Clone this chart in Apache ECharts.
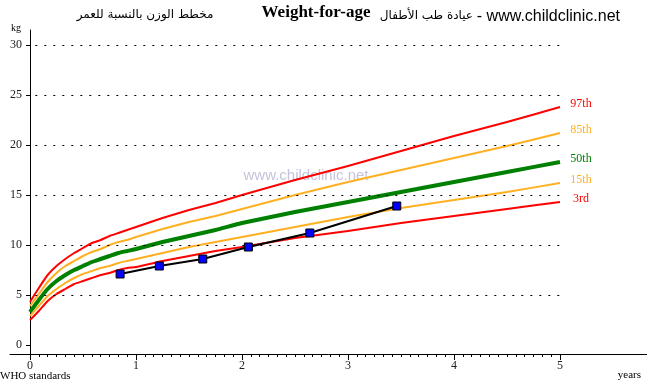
<!DOCTYPE html>
<html>
<head>
<meta charset="utf-8">
<script src="https://cdn.jsdelivr.net/npm/echarts@6/dist/echarts.min.js"></script>
<style>
html,body{margin:0;padding:0;background:#fff;}
#chart{width:647px;height:387px;}
</style>
</head>
<body>
<div id="chart"></div>
<script>
// Age in months for percentile curves (WHO boys weight-for-age)
var ageMonths = [0,1,2,3,4,5,6,7,8,9,10,11,12,15,18,21,24,30,36,42,48,54,60];
var p3  = [2.5,3.4,4.4,5.1,5.6,6.1,6.4,6.7,7.0,7.2,7.5,7.7,7.8,8.4,8.9,9.4,9.8,10.7,11.4,12.2,12.9,13.6,14.3];
var p15 = [2.9,3.9,4.9,5.6,6.2,6.7,7.1,7.4,7.7,7.9,8.2,8.4,8.6,9.2,9.8,10.3,10.8,11.8,12.8,13.7,14.5,15.3,16.2];
var p50 = [3.3,4.5,5.6,6.4,7.0,7.5,7.9,8.3,8.6,8.9,9.2,9.4,9.6,10.3,10.9,11.5,12.2,13.3,14.3,15.3,16.3,17.3,18.3];
var p85 = [3.9,5.1,6.3,7.2,7.9,8.4,8.9,9.3,9.6,10.0,10.3,10.5,10.8,11.6,12.3,12.9,13.6,15.0,16.3,17.5,18.7,19.9,21.2];
var p97 = [4.3,5.7,7.0,7.9,8.6,9.2,9.7,10.2,10.5,10.9,11.2,11.5,11.8,12.7,13.5,14.2,15.0,16.5,17.9,19.4,20.9,22.3,23.8];

// Child measurements
var childAge    = [0.85,1.22,1.63,2.06,2.64,3.46];
var childWeight = [7.1,7.9,8.6,9.8,11.2,13.9];

// Axis ticks / labels
var yearTicks = [0,1,2,3,4,5];
var kgTicks = [0,5,10,15,20,25,30];
var gridKg = [5,10,15,20,25,30];
var percentileNames = ['3rd','15th','50th','85th','97th'];

var monthTicks = [];
for (var m = 0; m <= 60; m++) monthTicks.push(m / 12);

function curve(arr){ return ageMonths.map(function(mo,i){ return [mo/12, arr[i]]; }); }

var RED = '#ff0000', ORANGE = '#ffb020', GREEN = '#008000';
var SERIF = '"Liberation Serif","Times New Roman",serif';
var SANS = '"Liberation Sans", Arial, sans-serif';

function pctSeries(name, arr, color, width){
  return {
    name: name, type: 'line', data: curve(arr), xAxisIndex: 0,
    showSymbol: false, smooth: 0.15, silent: true,
    lineStyle: {color: color, width: width, join: 'round'},
    itemStyle: {color: color},
    endLabel: {
      show: true, formatter: name, color: color,
      fontFamily: SERIF, fontSize: 12,
      distance: 21, align: 'center', offset: [0, -3]
    },
    z: 3
  };
}

var chart = echarts.init(document.getElementById('chart'), null, {renderer: 'canvas'});
var option = {
  animation: false,
  backgroundColor: '#fff',
  grid: {left: 10, right: 0, top: 30, bottom: 33, outerBoundsMode: 'none', containLabel: false},
  xAxis: [{
    type: 'value', min: -0.1887, max: 5.8208,
    axisLine: {onZero: false, lineStyle: {color: '#000', width: 1}},
    axisTick: {customValues: yearTicks, length: 6, lineStyle: {color: '#000'}},
    axisLabel: {customValues: yearTicks, color: '#222', fontFamily: SERIF, fontSize: 12, margin: 6},
    splitLine: {show: false}
  },{
    type: 'value', min: -0.1887, max: 5.8208, position: 'bottom',
    axisLine: {show: false, onZero: false},
    axisTick: {customValues: monthTicks, length: 3, lineStyle: {color: '#000'}},
    axisLabel: {show: false},
    splitLine: {show: false}
  }],
  yAxis: {
    type: 'value', min: -0.9, max: 31.5, position: 'left', offset: -20,
    axisLine: {onZero: false, lineStyle: {color: '#000', width: 1}},
    axisTick: {customValues: kgTicks, length: 4, lineStyle: {color: '#000'}},
    axisLabel: {customValues: kgTicks, color: '#222', fontFamily: SERIF, fontSize: 12, margin: 8},
    splitLine: {show: false}
  },
  graphic: [
    {type: 'text', z: 10, x: 316, y: 13, style: {text: 'Weight-for-age', font: 'bold 17px ' + SERIF, fill: '#000', textAlign: 'center', textVerticalAlign: 'middle'}},
    {type: 'text', z: 10, x: 145, y: 15, style: {text: 'مخطط الوزن بالنسبة للعمر', font: '12px "DejaVu Sans", sans-serif', fill: '#000', textAlign: 'center', textVerticalAlign: 'middle'}},
    {type: 'text', z: 10, x: 620, y: 17, style: {text: '- www.childclinic.net', font: '16px ' + SANS, fill: '#000', textAlign: 'right', textVerticalAlign: 'middle'}},
    {type: 'text', z: 10, x: 473, y: 16, style: {text: 'عيادة طب الأطفال', font: '12px "DejaVu Sans", sans-serif', fill: '#000', textAlign: 'right', textVerticalAlign: 'middle'}},
    {type: 'text', z: 10, x: 11, y: 28, style: {text: 'kg', font: '10px ' + SERIF, fill: '#000', textVerticalAlign: 'middle'}},
    {type: 'text', z: 10, x: 0, y: 376, style: {text: 'WHO standards', font: '11px ' + SERIF, fill: '#000', textVerticalAlign: 'middle'}},
    {type: 'text', z: 10, x: 641, y: 375, style: {text: 'years', font: '11px ' + SERIF, fill: '#000', textAlign: 'right', textVerticalAlign: 'middle'}},
    {type: 'text', z: 0, x: 306, y: 176, style: {text: 'www.childclinic.net', font: '15px ' + SANS, fill: '#c4c4dc', textAlign: 'center', textVerticalAlign: 'middle'}}
  ],
  series: [
    {
      type: 'line', data: [], silent: true,
      markLine: {
        silent: true, symbol: 'none', label: {show: false},
        lineStyle: {color: '#000', type: [2, 7], width: 1},
        data: gridKg.map(function(v){ return [{coord: [0.05, v]}, {coord: [5, v]}]; })
      }
    },
    pctSeries(percentileNames[4], p97, RED, 2),
    pctSeries(percentileNames[3], p85, ORANGE, 2),
    pctSeries(percentileNames[2], p50, GREEN, 4),
    pctSeries(percentileNames[1], p15, ORANGE, 2),
    pctSeries(percentileNames[0], p3, RED, 2),
    {
      name: 'child', type: 'line', silent: true, z: 5,
      data: childAge.map(function(a,i){ return [a, childWeight[i]]; }),
      symbol: 'rect', symbolSize: 8, showSymbol: true,
      lineStyle: {color: '#000', width: 2},
      itemStyle: {color: '#0000ff', borderColor: '#000', borderWidth: 1}
    }
  ]
};
chart.setOption(option);
</script>
</body>
</html>
